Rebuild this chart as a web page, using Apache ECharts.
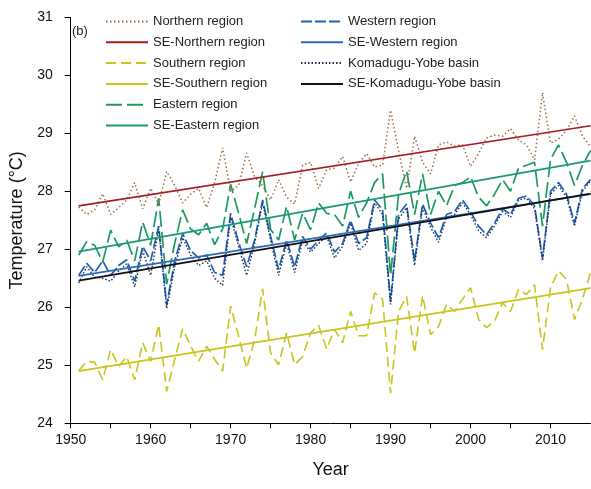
<!DOCTYPE html>
<html>
<head>
<meta charset="utf-8">
<script src="https://cdn.jsdelivr.net/npm/echarts@6/dist/echarts.min.js"></script>
<style>
html,body{margin:0;padding:0;background:#fff;}
#chart{width:591px;height:489px;}
</style>
</head>
<body>
<div id="chart"></div>
<script>
const years = [1951,1952,1953,1954,1955,1956,1957,1958,1959,1960,1961,1962,1963,1964,1965,1966,1967,1968,1969,1970,
1971,1972,1973,1974,1975,1976,1977,1978,1979,1980,1981,1982,1983,1984,1985,1986,1987,1988,1989,1990,
1991,1992,1993,1994,1995,1996,1997,1998,1999,2000,2001,2002,2003,2004,2005,2006,2007,2008,2009,2010,
2011,2012,2013,2014,2015];

const northern = [27.73,27.6,27.68,27.96,27.6,27.72,27.85,28.15,27.7,28.05,27.78,28.34,28.1,27.8,27.95,28.05,27.72,28.15,28.75,28.0,
28.1,28.66,28.25,28.1,27.85,28.2,27.9,27.78,28.45,28.5,28.05,28.37,28.4,28.6,28.16,28.48,28.65,28.42,28.45,29.4,
28.7,28.05,28.95,28.5,28.3,28.8,28.85,28.78,28.8,28.43,28.65,28.92,28.97,28.95,29.08,28.88,28.8,28.54,29.7,28.83,
28.9,29.05,29.3,28.95,28.77];

const southern = [24.9,25.07,25.05,24.75,25.27,24.98,25.15,24.75,25.39,25.07,25.7,24.55,25.1,25.63,25.33,25.07,25.33,25.1,24.9,26.02,
25.5,24.95,25.44,26.32,25.21,25.01,25.56,25.01,25.15,25.56,25.69,25.28,25.62,25.39,25.93,25.51,25.51,26.25,26.14,24.52,
25.93,26.19,25.21,26.2,25.53,25.67,26.05,25.93,26.14,26.34,25.79,25.65,25.76,26.08,25.93,26.31,26.22,26.39,25.27,26.34,
26.63,26.48,25.79,26.14,26.6];

const eastern = [26.9,27.13,27.07,26.78,27.33,27.04,27.16,26.8,27.47,27.07,27.88,26.4,27.1,27.68,27.35,27.25,27.45,27.08,27.35,28.12,
27.62,27.1,27.7,28.34,27.34,27.16,27.74,27.16,27.62,27.34,27.8,27.62,27.6,27.4,28.0,27.55,27.8,28.15,28.3,26.55,
27.95,28.35,27.6,28.3,27.6,28.0,27.75,28.1,28.15,28.25,27.9,27.75,27.95,28.2,28.0,28.4,28.45,28.5,27.4,28.55,
28.8,28.5,28.1,28.45,28.7];

const western = [26.55,26.76,26.6,26.8,26.55,26.72,26.82,26.45,27.05,26.8,27.4,26.04,26.8,27.27,26.98,26.85,26.9,26.6,26.55,27.62,
27.12,26.7,27.16,27.85,27.22,26.65,27.16,26.7,27.22,27.0,27.16,27.28,26.95,27.1,27.5,27.1,27.2,27.85,27.68,26.1,
27.6,27.78,26.8,27.78,27.45,27.2,27.6,27.65,27.85,27.65,27.4,27.25,27.45,27.7,27.6,27.88,27.92,27.75,26.85,28.0,
28.15,27.95,27.45,28.05,28.2];

const komadugu = [26.42,26.7,26.52,26.5,26.45,26.62,26.75,26.35,26.98,26.55,27.35,25.98,26.7,27.2,26.9,26.72,26.8,26.5,26.38,27.55,
27.05,26.55,27.1,27.8,27.15,26.55,27.1,26.6,27.15,26.95,27.1,27.22,26.85,27.05,27.45,26.98,27.1,27.8,27.6,26.05,
27.52,27.72,26.72,27.72,27.38,27.12,27.55,27.6,27.8,27.6,27.32,27.2,27.4,27.65,27.55,27.85,27.88,27.7,26.8,27.95,
28.1,27.9,27.4,28.0,28.18];

// Trend (SE) lines: values at first and last year
const trendYears = [1951, 2015];
const seNorthern = [27.75, 29.13];
const seSouthern = [24.9, 26.33];
const seEastern = [26.96, 28.53];
const seWestern = [26.54, 27.95];
const seKomadugu = [26.46, 27.96];

const xTicks = [1950, 1960, 1970, 1980, 1990, 2000, 2010];
const yTicks = [24, 25, 26, 27, 28, 29, 30, 31];

function pairs(xs, ys) { return xs.map((x, i) => [x, ys[i]]); }

const FONT = 'Liberation Sans, Arial, sans-serif';

function mk(name, xs, ys, color, type, width, z) {
  return {
    name: name, type: 'line', data: pairs(xs, ys), symbol: 'none', showSymbol: false,
    legendIcon: 'none',
    lineStyle: { color: color, type: type, width: width },
    itemStyle: { color: color, opacity: 0 },
    z: z, animation: false
  };
}

const series = [
  mk('Southern region', years, southern, '#C9C51C', [10, 5], 1.6, 2),
  mk('Eastern region', years, eastern, '#1C9A5E', [16, 5], 1.7, 3),
  mk('Northern region', years, northern, '#A8693F', [1.5, 2.5], 1.5, 4),
  mk('Western region', years, western, '#2060B0', [11, 3], 1.7, 5),
  mk('Komadugu-Yobe basin', years, komadugu, '#1E2E55', [1.5, 2], 1.4, 6),
  mk('SE-Northern region', trendYears, seNorthern, '#A31F22', 'solid', 1.7, 7),
  mk('SE-Southern region', trendYears, seSouthern, '#C9C51C', 'solid', 1.8, 7),
  mk('SE-Eastern region', trendYears, seEastern, '#1A9A74', 'solid', 1.8, 7),
  mk('SE-Western region', trendYears, seWestern, '#2A6BB8', 'solid', 1.8, 7),
  mk('SE-Komadugu-Yobe basin', trendYears, seKomadugu, '#111111', 'solid', 1.8, 8)
];

const legendText = { fontFamily: FONT, fontSize: 13, color: '#222' };

const option = {
  backgroundColor: '#fff',
  animation: false,
  grid: { left: 70.7, right: 0.5, top: 17.3, bottom: 65.7 },
  legend: [
    {
      orient: 'vertical', left: 100, top: 10, itemWidth: 42, itemHeight: 14, itemGap: 7.8,
      textStyle: legendText, selectedMode: false, itemStyle: { opacity: 0 },
      data: ['Northern region', 'SE-Northern region', 'Southern region', 'SE-Southern region', 'Eastern region', 'SE-Eastern region']
    },
    {
      orient: 'vertical', left: 295, top: 10, itemWidth: 42, itemHeight: 14, itemGap: 7.8,
      textStyle: legendText, selectedMode: false, itemStyle: { opacity: 0 },
      data: ['Western region', 'SE-Western region', 'Komadugu-Yobe basin', 'SE-Komadugu-Yobe basin']
    }
  ],
  graphic: [
    { type: 'text', left: 72, top: 25, style: { text: '(b)', fontFamily: FONT, fontSize: 13, fill: '#222' } }
  ],
  xAxis: {
    type: 'value', min: 1950, max: 2015, interval: 5,
    name: 'Year', nameLocation: 'middle', nameGap: 38,
    nameTextStyle: { fontFamily: FONT, fontSize: 18, color: '#111' },
    axisLine: { show: true, lineStyle: { color: '#000', width: 1 } },
    axisTick: { show: true, inside: false, length: 5, lineStyle: { color: '#000' } },
    axisLabel: {
      margin: 10, fontFamily: FONT, fontSize: 14, color: '#111', showMaxLabel: false,
      formatter: function (v) { return xTicks.indexOf(v) >= 0 ? String(v) : ''; }
    },
    splitLine: { show: false }
  },
  yAxis: {
    type: 'value', min: 24, max: 31, interval: 1,
    name: 'Temperature (\u00B0C)', nameLocation: 'middle', nameGap: 44, nameRotate: 90,
    nameTextStyle: { fontFamily: FONT, fontSize: 18, color: '#111' },
    axisLine: { show: true, lineStyle: { color: '#000', width: 1 } },
    axisTick: { show: true, inside: false, length: 6, lineStyle: { color: '#000' } },
    axisLabel: {
      margin: 18, fontFamily: FONT, fontSize: 14, color: '#111',
      formatter: function (v) { return yTicks.indexOf(v) >= 0 ? String(v) : ''; }
    },
    splitLine: { show: false }
  },
  series: series
};

const chart = echarts.init(document.getElementById('chart'), null, { renderer: 'canvas' });
chart.setOption(option);
</script>
</body>
</html>
